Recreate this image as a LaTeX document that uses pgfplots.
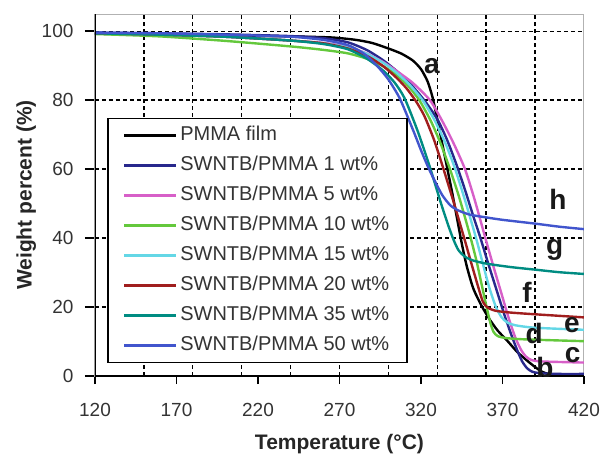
\documentclass[border=0pt]{standalone}
\usepackage{pgfplots}
\pgfplotsset{compat=1.18}
\usepackage{fontspec}
\setmainfont{Liberation Sans}
\definecolor{cNavy}{RGB}{40,40,140}
\definecolor{cMag}{RGB}{215,95,200}
\definecolor{cGreen}{RGB}{100,200,60}
\definecolor{cCyan}{RGB}{100,215,230}
\definecolor{cRed}{RGB}{160,30,30}
\definecolor{cTeal}{RGB}{0,140,130}
\definecolor{cBlue}{RGB}{65,85,205}
\begin{document}
\begin{tikzpicture}
\useasboundingbox (-47.5pt,-40.5pt) rectangle (253.5pt,188pt);
\begin{axis}[
  width=244.5pt, height=181pt, scale only axis,
  xmin=120, xmax=420, ymin=0, ymax=105,
  xtick={120,170,...,420}, ytick={0,20,...,100},
  xtick pos=bottom, ytick pos=left,
  tick align=outside,
  xtick style={/pgfplots/major tick length=4pt, black, line width=0.8pt},
  ytick style={/pgfplots/major tick length=5pt, black, line width=0.8pt},
  tick label style={font=\fontsize{9.5}{11}\selectfont, text=black!80},
  xticklabel style={yshift=-6pt},
  yticklabel style={xshift=-3pt},
  /pgf/number format/assume math mode=true,
  xlabel={Temperature (°C)}, ylabel={Weight percent (\%)},
  label style={font=\fontsize{10.5}{12}\selectfont\bfseries, text=black!85},
  xlabel shift=-7pt, ylabel shift=-4pt,
  ymajorgrids,
  extra x ticks={150,180,...,390}, extra x tick labels={},
  extra x tick style={grid=major, xtick style={/pgfplots/major tick length=0pt}},
  grid style={black, line width=0.7pt, dash pattern=on 2pt off 1.5pt},
  axis line style={gray!60, line width=0.5pt},
  legend style={at={(rel axis cs:0.0245,0.714)}, anchor=north west,
    draw=black, line width=0.9pt, fill=white, inner xsep=7.5pt, inner ysep=1pt,
    font=\fontsize{10}{11}\selectfont, text=black!80, row sep=0pt,
    nodes={inner xsep=1.5pt, inner ysep=2.5pt, text height=7.4pt, text depth=2.6pt}},
  legend cell align=left,
  legend image code/.code={\draw[#1] (0pt,0pt) -- (26pt,0pt);},
  every axis plot/.append style={line width=1.2pt, smooth, tension=0.4},
]
\addplot[black] coordinates {(120,99.3) (160,99.0) (200,98.8) (240,98.5) (265,98.2) (280,97.5) (290,96.6) (300,95) (308,93.5) (315,91.5) (320,89) (324,85.5) (327,81) (330,74.5) (333,67.5) (336,60.5) (339,53.5) (342,46) (345,38.5) (348,32) (352,25.5) (357,20.5) (362,16.5) (367,13.2) (373,10.2) (379,7) (385,4.5) (390,2.6) (394,1.3) (398,0.6) (404,0.3) (420,0.3)};
\addlegendentry{PMMA film}
\addplot[cNavy] coordinates {(120,99.6) (160,99.4) (200,99.1) (240,98.6) (260,98) (275,96.8) (287,94.5) (297,91.5) (305,88.5) (313,85) (322,80) (330,74.5) (336,68.5) (342,61) (347,54) (352,46.5) (356.5,40) (361,33) (366,25.5) (371,18) (375,12.5) (379,7.5) (382,4.3) (385,2.3) (388,1.3) (393,0.8) (405,0.6) (420,0.6)};
\addlegendentry{SWNTB/PMMA 1 wt\%}
\addplot[cMag] coordinates {(120,99.4) (160,99.0) (200,98.4) (240,97.3) (260,96.6) (275,95.5) (287,93.5) (297,91) (305,88.5) (315,85) (325.5,80) (333,74) (340,67.5) (347,60) (353,51) (359.5,40) (364,32.5) (369,24.5) (374,16.5) (378,11) (381.5,7.5) (384.5,5.6) (388,4.6) (395,4.2) (420,3.9)};
\addlegendentry{SWNTB/PMMA 5 wt\%}
\addplot[cGreen] coordinates {(120,99.2) (160,98.5) (200,97.2) (240,95.6) (260,94.6) (275,93.6) (287,92) (297,89.8) (305,87.3) (312,84.2) (319,80) (326,74) (332,67.5) (337.8,60) (343,52.5) (347,46) (350.5,40) (354,33.5) (357,27) (360,20.5) (362.5,15.5) (364.5,12.8) (367,11.6) (372,11) (385,10.6) (420,10.1)};
\addlegendentry{SWNTB/PMMA 10 wt\%}
\addplot[cCyan] coordinates {(120,99.4) (160,99.0) (200,98.4) (240,97.3) (260,96.5) (275,95.3) (287,93.4) (297,90.8) (305,88) (313,84.5) (321,80) (328,74.5) (335,67.5) (341,60) (347,51) (353.5,40.5) (358,32.5) (362,25.5) (366,20) (369.5,17) (373,15.5) (378,14.7) (390,14) (420,13.4)};
\addlegendentry{SWNTB/PMMA 15 wt\%}
\addplot[cRed] coordinates {(120,99.4) (160,99.0) (200,98.4) (240,97.3) (260,96.5) (275,95) (287,92.8) (297,89.8) (305,86.5) (311,83.5) (316.5,80) (322,75.5) (328,68.5) (333.5,60.5) (340,50.5) (346.5,40) (351,32.5) (355,26) (358,21.5) (361,19.8) (366,18.9) (375,18.4) (390,17.9) (420,17)};
\addlegendentry{SWNTB/PMMA 20 wt\%}
\addplot[cTeal] coordinates {(120,99.4) (160,99.0) (200,98.4) (240,97.3) (260,96.3) (275,94.8) (287,92) (297,88.5) (304,85) (310,80.5) (318,71) (325.5,60.5) (332,50.5) (336.5,44) (340,39.5) (343,36.5) (347,34.6) (352,33.5) (360,32.6) (375,31.6) (391,30.8) (405,30.1) (420,29.6)};
\addlegendentry{SWNTB/PMMA 35 wt\%}
\addplot[cBlue] coordinates {(120,99.6) (160,99.4) (200,99.0) (240,98.4) (260,97.5) (275,96) (285,93.5) (293,90) (300,86) (307,80.5) (315,71.5) (320,65.5) (324,61) (328,57) (333,52.5) (338,49.5) (343,48) (350,46.8) (360,46) (370,45.3) (390,44.2) (405,43.3) (420,42.6)};
\addlegendentry{SWNTB/PMMA 50 wt\%}
\draw[black, line width=1pt] (rel axis cs:0,1) -- (rel axis cs:0,0) -- (rel axis cs:1,0);
\begin{scope}[every node/.style={font=\fontsize{14}{16}\selectfont\bfseries, text=black!90}]
\node at (axis cs:326.7,89.8) {a};
\node at (axis cs:396,2.6) {b};
\node at (axis cs:413,6.1) {c};
\node at (axis cs:389.4,12.2) {d};
\node at (axis cs:412.6,14.8) {e};
\node at (axis cs:385,24.4) {f};
\node at (axis cs:402,36.6) {g};
\node at (axis cs:404,51.2) {h};
\end{scope}
\end{axis}
\end{tikzpicture}
\end{document}
